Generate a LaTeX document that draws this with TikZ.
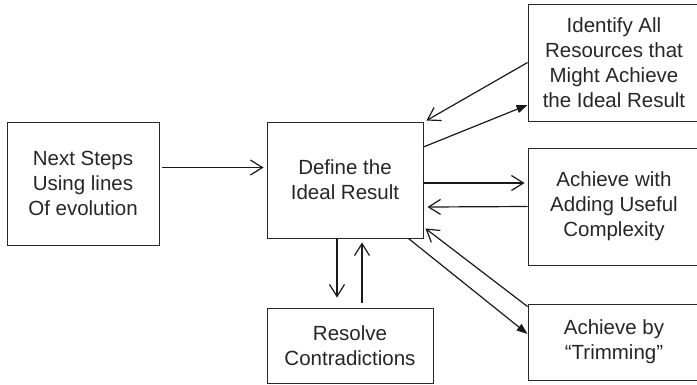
\documentclass[tikz,border=0pt]{standalone}
\usepackage{fontspec}
\setmainfont{Liberation Sans}
\usetikzlibrary{arrows.meta}
\begin{document}
\begin{tikzpicture}[x=1pt,y=-1pt,
  box/.style={draw=black!85,line width=0.9pt,rectangle,inner sep=0pt,align=center,
    font=\fontsize{20.5}{25}\selectfont,text=black!85},
  openarr/.style={draw=black!90,line width=1.2pt,-{Straight Barb[length=12pt,width=15pt,line width=1.2pt]}},
  fillarr/.style={draw=black!90,line width=1.2pt,-{Triangle[length=11pt,width=8pt]}}]
\useasboundingbox (0,0) rectangle (697,384);
\node[box,minimum width=152pt,minimum height=123pt] (next) at (83,183.5) {Next Steps\\Using lines\\Of evolution};
\node[box,minimum width=156pt,minimum height=116pt] (def) at (345,180) {Define the\\Ideal Result};
\node[box,minimum width=172pt,minimum height=117pt] (id) at (614,62.5) {Identify All\\Resources that\\Might Achieve\\the Ideal Result};
\node[box,minimum width=172pt,minimum height=117pt] (ach) at (614,206.5) {Achieve with\\Adding Useful\\Complexity};
\node[box,minimum width=172pt,minimum height=76pt] (trim) at (614,342) {Achieve by\\``Trimming''};
\node[box,minimum width=166pt,minimum height=75pt] (res) at (350,345.5) {Resolve\\Contradictions};
% connectors
\draw[openarr] ([xshift=3pt,yshift=16pt]next.east) -- ([xshift=-3pt,yshift=12.5pt]def.west);
\draw[fillarr] ([yshift=33pt]def.east) -- ([yshift=-42.5pt]id.west);
\draw[openarr] (id.west) -- ([xshift=3pt,yshift=1pt]def.north east);
\draw[openarr] ([yshift=-3pt]def.east) -- ([xshift=-3pt,yshift=23.5pt]ach.west);
\draw[openarr] (ach.west) -- ([xshift=4pt,yshift=-27pt]def.east);
\draw[fillarr] ([xshift=-15pt]def.south east) -- ([yshift=8pt]trim.west);
\draw[openarr] ([yshift=-3pt]trim.north west) -- ([xshift=2pt,yshift=10pt]def.south east);
\draw[openarr] ([xshift=-8pt]def.south) -- ([xshift=-13pt,yshift=10pt]res.north);
\draw[openarr] ([xshift=12pt,yshift=5pt]res.north) -- ([xshift=17pt,yshift=-4pt]def.south);
\end{tikzpicture}
\end{document}
